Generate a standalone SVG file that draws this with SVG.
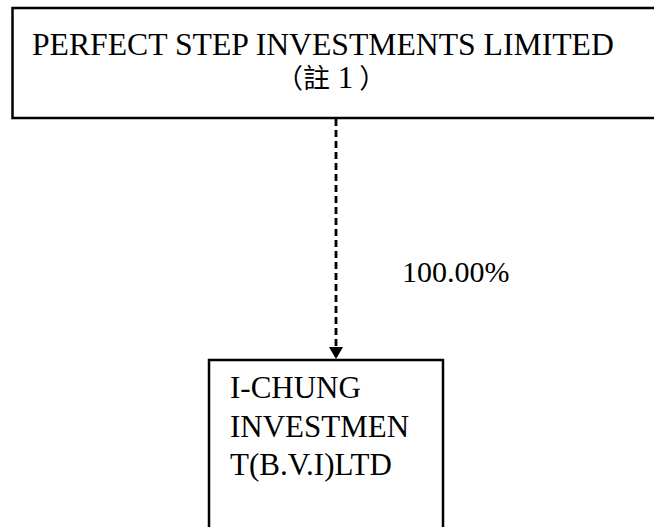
<svg xmlns="http://www.w3.org/2000/svg" width="654" height="527" viewBox="0 0 654 527">
<style>
.box{fill:#fff;stroke:#000;stroke-width:2.5}
.t{font-family:"Liberation Serif","Noto Sans CJK TC",serif;fill:#000}
.conn{stroke:#000;stroke-width:2.8;stroke-dasharray:7 4;fill:none}
</style>
<rect width="654" height="527" fill="#fff"/>
<g id="node-perfect-step">
<rect class="box" x="12.5" y="8" width="660" height="110"/>
<text class="t" x="32" y="55" font-size="31.7">PERFECT STEP INVESTMENTS LIMITED</text>
<text class="t" x="276" y="88" font-size="27">（註<tspan font-size="31"> 1</tspan><tspan dx="6">）</tspan></text>
</g>
<g id="node-i-chung">
<rect class="box" x="209" y="360" width="234" height="200"/>
<text class="t" x="230" y="398" font-size="31">I-CHUNG</text>
<text class="t" x="230" y="437" font-size="31">INVESTMEN</text>
<text class="t" x="230" y="475" font-size="31">T(B.V.I)LTD</text>
</g>
<g id="connectors">
<line class="conn" x1="336" y1="119" x2="336" y2="348"/>
<path d="M329,347 L343,347 L336,359 Z" fill="#000"/>
<text class="t" x="402" y="282" font-size="30">100.00%</text>
</g>
</svg>
